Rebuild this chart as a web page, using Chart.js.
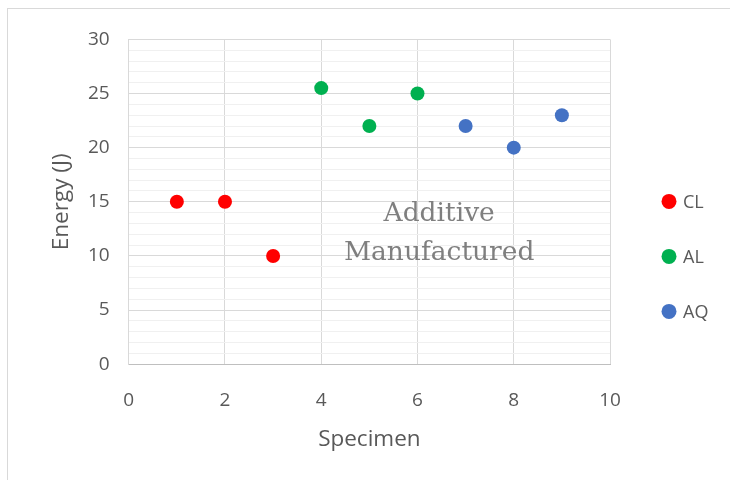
<!DOCTYPE html>
<html>
<head>
<meta charset="utf-8">
<script src="https://cdn.jsdelivr.net/npm/chart.js@4/dist/chart.umd.min.js"></script>
<style>
  html, body { margin: 0; padding: 0; background: #fff; }
  #wrap { position: absolute; left: 7px; top: 8px; width: 730px; height: 480px; border: 1px solid #d9d9d9; box-sizing: border-box; }
  #chart { display: block; }
</style>
</head>
<body>
<div id="wrap"><canvas id="chart" width="723" height="472"></canvas></div>
<script>
const seriesNames = ['CL', 'AL', 'AQ']
const seriesColors = ['#ff0000', '#00b050', '#4472c4']
const clX = [1, 2, 3]
const clY = [15, 15, 10]
const alX = [4, 5, 6]
const alY = [25.5, 22, 25]
const aqX = [7, 8, 9]
const aqY = [22, 20, 23]
const noteLines = ['Additive', 'Manufactured']

const pts = (xs, ys) => xs.map((x, i) => ({ x, y: ys[i] }))
const allSeries = [pts(clX, clY), pts(alX, alY), pts(aqX, aqY)]

const FONTE = 'Open Sans, sans-serif'
const tickFont = { family: FONTE, size: 19 }
const titleFont = { family: FONTE, size: 22.5 }

// texto "Additive Manufactured" dentro da área do gráfico
const notaPlugin = {
  id: 'nota',
  afterDatasetsDraw(chart) {
    const { ctx, scales: { x, y } } = chart
    ctx.save()
    ctx.fillStyle = '#7f7f7f'
    ctx.font = '26.5px "DejaVu Serif", serif'
    ctx.textAlign = 'center'
    ctx.textBaseline = 'middle'
    const cx = x.getPixelForValue(6.45)
    ctx.fillText(noteLines[0], cx, y.getPixelForValue(13.85))
    ctx.fillText(noteLines[1], cx, y.getPixelForValue(10.3))
    ctx.restore()
  }
}

// legenda à direita, no estilo do Excel
const legendaPlugin = {
  id: 'legenda',
  afterDraw(chart) {
    const { ctx, chartArea } = chart
    const x0 = chartArea.right + 59
    const y0 = chartArea.top + 162
    ctx.save()
    ctx.font = `18px ${FONTE}`
    ctx.textBaseline = 'middle'
    chart.data.datasets.forEach((ds, i) => {
      const y = y0 + i * 55
      ctx.fillStyle = ds.backgroundColor
      ctx.beginPath()
      ctx.arc(x0, y, 7.5, 0, Math.PI * 2)
      ctx.fill()
      ctx.fillStyle = '#595959'
      ctx.fillText(ds.label, x0 + 14, y + 1)
    })
    ctx.restore()
  }
}

new Chart(document.getElementById('chart'), {
  type: 'scatter',
  data: {
    datasets: allSeries.map((data, i) => ({
      label: seriesNames[i],
      data,
      backgroundColor: seriesColors[i],
      borderColor: seriesColors[i],
      borderWidth: 0,
      pointRadius: 7,
      pointHoverRadius: 7,
      pointStyle: 'circle',
    })),
  },
  options: {
    responsive: false,
    animation: false,
    layout: { padding: { top: 13, right: 121, bottom: 24, left: 36 } },
    plugins: {
      legend: { display: false },
      tooltip: { enabled: false },
    },
    scales: {
      x: {
        type: 'linear',
        min: 0,
        max: 10,
        ticks: { stepSize: 2, color: '#595959', font: tickFont, padding: 25 },
        grid: { color: '#d9d9d9', drawTicks: false },
        border: { color: '#bfbfbf' },
        title: { display: true, text: 'Specimen', color: '#595959', font: titleFont, padding: { top: -11, bottom: 4 } },
      },
      y: {
        min: 0,
        max: 30,
        afterFit: s => { s.width += 4 },
        ticks: {
          stepSize: 1,
          color: '#595959',
          font: tickFont,
          padding: 19,
          autoSkip: false,
          callback: v => v % 5 === 0 ? String(v) : '',
        },
        grid: {
          drawTicks: false,
          color: c => c.tick && c.tick.value % 5 === 0 ? '#d9d9d9' : '#f0f0f0',
        },
        border: { color: '#d9d9d9' },
        title: { display: true, text: 'Energy (J)', color: '#595959', font: titleFont, padding: { top: 4, bottom: -10 } },
      },
    },
  },
  plugins: [notaPlugin, legendaPlugin],
})
</script>
</body>
</html>
